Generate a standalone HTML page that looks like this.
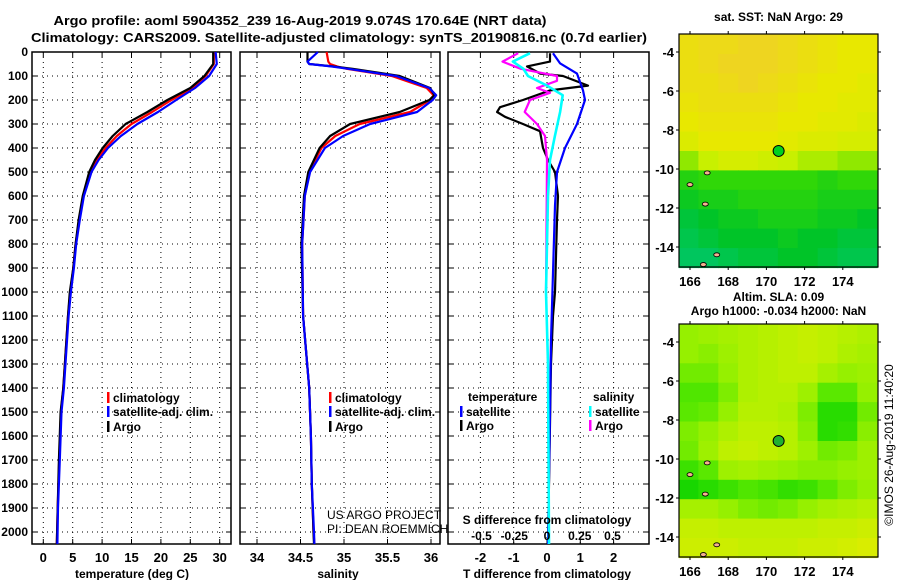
<!DOCTYPE html>
<html><head><meta charset="utf-8">
<style>
html,body{margin:0;padding:0;background:#fff;}
svg{display:block;font-family:"Liberation Sans",sans-serif;}
.b{font-weight:bold;}
</style></head>
<body>
<svg id="fig" width="900" height="580" viewBox="0 0 900 580" xmlns="http://www.w3.org/2000/svg">
<text x="300" y="25" class="b" font-size="13" text-anchor="middle" textLength="493" lengthAdjust="spacingAndGlyphs">Argo profile: aoml 5904352_239 16-Aug-2019 9.074S 170.64E (NRT data)</text>
<text x="339" y="42" class="b" font-size="13" text-anchor="middle" textLength="616" lengthAdjust="spacingAndGlyphs">Climatology: CARS2009. Satellite-adjusted climatology: synTS_20190816.nc (0.7d earlier)</text>
<g id="panels"></g>
<g id="maps"></g>
<text transform="translate(893,445) rotate(-90)" font-size="12" text-anchor="middle">©IMOS 26-Aug-2019 11:40:20</text>
</svg>
<script>
// ---------- data ----------
const tDepth = [0,50,100,150,200,250,300,350,400,450,500,600,700,800,900,1000,1100,1400,1500,1700,1900,2050];
const tArgo  = [28.9,28.9,27.4,25.0,21.1,17.7,14.0,11.8,10.1,8.8,7.8,6.7,6.0,5.5,5.1,4.5,4.2,3.4,2.95,2.65,2.45,2.3];
const tClim  = [29.0,29.0,27.6,25.4,21.8,18.5,15.0,12.5,10.6,9.1,8.0,6.8,6.1,5.5,5.1,4.6,4.2,3.4,3.0,2.7,2.45,2.3];
const tSat   = [29.3,29.5,28.2,25.8,22.6,19.5,16.0,13.2,11.0,9.4,8.2,6.9,6.2,5.6,5.2,4.7,4.3,3.5,3.1,2.8,2.5,2.4];
const sDepth = [0,40,50,60,70,100,150,180,200,250,300,350,400,500,600,800,1100,1400,1600,1800,2000,2050];
const sArgo  = [34.58,34.58,34.6,34.87,35.1,35.64,35.99,36.04,35.98,35.64,35.07,34.84,34.72,34.59,34.54,34.51,34.53,34.6,34.62,34.63,34.65,34.655];
const sClim  = [34.8,34.82,34.84,34.92,35.03,35.55,35.95,36.03,35.99,35.76,35.18,34.9,34.74,34.6,34.55,34.52,34.53,34.6,34.62,34.63,34.65,34.66];
const sSat   = [34.70,34.58,34.6,34.85,35.05,35.6,35.98,36.06,36.02,35.84,35.3,34.99,34.78,34.61,34.55,34.52,34.53,34.6,34.62,34.63,34.655,34.66];
const dtArgoDepth = [5,40,60,90,100,140,160,200,230,250,270,300,330,400,450,500,600,700,850,1000,1100,1300,2050];
const dtArgo = [0.09,0.09,-0.6,-0.2,0.48,1.23,0.09,-0.72,-1.41,-1.5,-1.26,-0.72,-0.21,-0.12,0.03,0.24,0.33,0.3,0.27,0.24,0.18,0.12,0.03];
const dtSatDepth = [5,47,90,160,200,300,400,500,640,920,1200,1500,2050];
const dtSat = [0.18,0.39,0.9,1.08,1.14,0.9,0.54,0.3,0.24,0.18,0.12,0.09,0.03];
const dsSatDepth = [5,40,70,100,140,180,250,350,450,600,1000,1300,2050];
const dsSat = [-0.13,-0.26,-0.18,-0.145,0,0.12,0.1,0.06,0.023,0.008,-0.008,0.008,0.015];
const dsArgoDepth = [5,40,70,100,120,150,170,200,250,300,350,450,1000];
const dsArgo = [-0.22,-0.34,-0.2,0.076,0.076,-0.076,0.023,-0.13,-0.17,-0.076,-0.015,0,-0.008];
const depthTicks = [0,100,200,300,400,500,600,700,800,900,1000,1100,1200,1300,1400,1500,1600,1700,1800,1900,2000];
const tTicks = [0,5,10,15,20,25,30];
const sTicks = [34,34.5,35,35.5,36];
const dtTicks = [-2,-1,0,1,2];
const dsTicks = [-0.5,-0.25,0,0.25,0.5];
const dsTickLabels = ["-0.5","-0.25","0","0.25","0.5"];
// map grids (rows lat -3..-15, cols lon 165.4..175.8), colour level values
const sstGrid = [
[0.3,0.2,0.2,0.1,0.1,0.2,0.3,0.4,0.5,0.5],
[0.3,0.2,0.1,0.1,0.1,0.2,0.3,0.4,0.5,0.5],
[0.3,0.3,0.2,0.1,0.2,0.3,0.4,0.5,0.5,0.6],
[0.4,0.3,0.3,0.3,0.3,0.4,0.5,0.5,0.6,0.6],
[0.5,0.4,0.4,0.4,0.4,0.5,0.5,0.6,0.6,0.7],
[0.7,0.5,0.5,0.5,0.5,0.6,0.7,0.7,0.8,0.8],
[1.2,1.0,0.8,0.8,0.9,1.0,1.1,1.1,1.2,1.2],
[1.7,1.6,1.6,1.6,1.6,1.6,1.6,1.7,1.6,1.6],
[1.9,1.8,1.8,1.7,1.7,1.7,1.7,1.8,1.8,1.8],
[2.1,2.0,1.9,1.9,1.8,1.8,1.8,1.9,1.9,2.0],
[2.2,2.1,2.0,2.0,2.0,1.9,2.0,2.0,2.1,2.1],
[2.3,2.3,2.2,2.1,2.1,2.0,2.0,2.1,2.2,2.2]];
const slaGrid = [
[1.0,0.9,0.8,0.7,0.6,0.5,0.4,0.5,0.6,0.7],
[1.0,1.1,0.9,0.7,0.6,0.5,0.4,0.5,0.7,0.8],
[1.3,1.3,1.0,0.7,0.6,0.5,0.5,0.8,1.0,0.9],
[1.6,1.6,1.2,0.7,0.6,0.6,0.9,1.5,1.5,1.0],
[1.5,1.4,1.0,0.6,0.6,0.7,1.2,2.0,2.0,1.3],
[1.2,1.0,0.7,0.5,0.5,0.6,1.1,2.0,1.9,1.1],
[1.3,0.9,0.5,0.4,0.5,0.6,0.9,1.3,1.2,0.9],
[1.8,1.5,0.9,0.8,0.9,1.0,1.1,1.1,1.0,0.9],
[2.2,2.0,1.8,1.6,1.7,1.9,1.8,1.5,1.2,1.0],
[0.8,0.8,1.0,1.2,1.3,1.2,1.0,0.8,0.7,0.6],
[0.4,0.4,0.5,0.5,0.5,0.5,0.5,0.4,0.4,0.3],
[0.3,0.3,0.3,0.4,0.4,0.4,0.3,0.3,0.2,0.1]];
const lonTicks = [166,168,170,172,174];
const latTicks = [-4,-6,-8,-10,-12,-14];
const argoLon = 170.64, argoLat = -9.074;

// ---------- helpers ----------
const NS="http://www.w3.org/2000/svg";
function mk(tag, attrs, parent){const e=document.createElementNS(NS,tag);for(const k in attrs)e.setAttribute(k,attrs[k]);parent.appendChild(e);return e;}
const P=document.getElementById('panels');
const M=document.getElementById('maps');
const top0=52, bot=544;
const yD = d => top0 + d*0.24;
const xT = v => 43.3 + v*5.88;
const xS = v => 257 + (v-34)*87;
const xDT = v => 547 + v*33.3;
const xDS = v => 547 + v*131;

function panel(x0,x1,name,xfun,ticks,gridVals){
  const g=mk('g',{},P);
  
  
  mk('rect',{x:x0,y:top0,width:x1-x0,height:bot-top0,fill:'#fff'},g);
  depthTicks.forEach(d=>{ if(d>0){const l=mk('line',{x1:x0,x2:x1,y1:yD(d),y2:yD(d),stroke:'#000','stroke-width':1,'stroke-dasharray':'1,4'},g);
     }});
  gridVals.forEach(v=>{const l=mk('line',{x1:xfun(v),x2:xfun(v),y1:top0,y2:bot,stroke:'#000','stroke-width':1,'stroke-dasharray':'1,4'},g);
     
    mk('line',{x1:xfun(v),x2:xfun(v),y1:bot,y2:bot-5,stroke:'#000'},g);
    mk('line',{x1:xfun(v),x2:xfun(v),y1:top0,y2:top0+5,stroke:'#000'},g);});
  depthTicks.forEach(d=>{mk('line',{x1:x0,x2:x0+5,y1:yD(d),y2:yD(d),stroke:'#000'},g);mk('line',{x1:x1,x2:x1-5,y1:yD(d),y2:yD(d),stroke:'#000'},g);});
  mk('rect',{x:x0,y:top0,width:x1-x0,height:bot-top0,fill:'none',stroke:'#000','stroke-width':1.5},g);
  return g;
}
function line(g,xs,ds,xfun,color,name,w){
  const pts=xs.map((v,i)=>xfun(v).toFixed(1)+','+yD(ds[i]).toFixed(1)).join(' ');
  const pl=mk('polyline',{points:pts,fill:'none',stroke:color,'stroke-width':w||2.2,'stroke-linejoin':'round'},g);
  
  
}
function txt(g,x,y,s,opts,name){const t=mk('text',Object.assign({x:x,y:y,'font-size':12,'font-weight':'bold'},opts||{}),g);t.textContent=s;
    return t;}
function legend(g,x,y,color,label,name){mk('rect',{x:x,y:y-10,width:2.5,height:11,fill:color},g);txt(g,x+6,y,label,{},name);}

// depth labels
depthTicks.forEach(d=>txt(P,28,yD(d)+4,String(d),{'text-anchor':'end'},'depth-tick-label'));

// temperature panel
const g1=panel(32,231,'temperature-panel',xT,tTicks,tTicks);
line(g1,tClim,tDepth,xT,'#ff0000','temp-climatology-line');
line(g1,tArgo,tDepth,xT,'#000000','temp-argo-line');
line(g1,tSat,tDepth,xT,'#0000ff','temp-satellite-line');
tTicks.forEach(v=>txt(P,xT(v),562,String(v),{'text-anchor':'middle','font-size':13},'temp-tick-label'));
txt(P,132,578,'temperature (deg C)',{'text-anchor':'middle'},'temp-axis-title');
legend(g1,107,402,'#ff0000','climatology','legend-climatology');
legend(g1,107,416,'#0000ff','satellite-adj. clim.','legend-satellite');
legend(g1,107,431,'#000000','Argo','legend-argo');

// salinity panel
const g2=panel(240,440,'salinity-panel',xS,sTicks,sTicks);
line(g2,sClim,sDepth,xS,'#ff0000','sal-climatology-line');
line(g2,sArgo,sDepth,xS,'#000000','sal-argo-line');
line(g2,sSat,sDepth,xS,'#0000ff','sal-satellite-line');
sTicks.forEach(v=>txt(P,xS(v),562,String(v),{'text-anchor':'middle','font-size':13},'sal-tick-label'));
txt(P,338,578,'salinity',{'text-anchor':'middle'},'sal-axis-title');
legend(g2,329,402,'#ff0000','climatology','legend-climatology');
legend(g2,329,416,'#0000ff','satellite-adj. clim.','legend-satellite');
legend(g2,329,431,'#000000','Argo','legend-argo');
txt(g2,327,519,'US ARGO PROJECT',{'font-weight':'normal','font-size':12},'credit-project');
txt(g2,327,533,'PI: DEAN ROEMMICH',{'font-weight':'normal','font-size':12},'credit-pi');

// difference panel
const g3=panel(448,649,'difference-panel',xDT,dtTicks,dtTicks);
line(g3,dtArgo,dtArgoDepth,xDT,'#000000','dt-argo-line');
line(g3,dsArgo,dsArgoDepth,xDS,'#ff00ff','ds-argo-line');
line(g3,dtSat,dtSatDepth,xDT,'#0000ff','dt-satellite-line');
line(g3,dsSat,dsSatDepth,xDS,'#00ffff','ds-satellite-line',2.6);
dtTicks.forEach(v=>txt(P,xDT(v),562,String(v),{'text-anchor':'middle','font-size':13},'dt-tick-label'));
dsTicks.forEach((v,i)=>txt(g3,xDS(v),540,dsTickLabels[i],{'text-anchor':'middle','font-size':12},'ds-tick-label'));
txt(g3,547,524,'S difference from climatology',{'text-anchor':'middle'},'ds-axis-title');
txt(P,547,578,'T difference from climatology',{'text-anchor':'middle'},'dt-axis-title');
txt(g3,468,401,'temperature',{},'legend-temperature-header');
legend(g3,460,416,'#0000ff','satellite','legend-t-satellite');
legend(g3,460,430,'#000000','Argo','legend-t-argo');
txt(g3,593,401,'salinity',{},'legend-salinity-header');
legend(g3,589,416,'#00ffff','satellite','legend-s-satellite');
legend(g3,589,430,'#ff00ff','Argo','legend-s-argo');

// ---------- maps ----------
function lerpC(stops,v){
  if(v<=stops[0][0])return stops[0][1];
  for(let i=1;i<stops.length;i++){if(v<=stops[i][0]){const a=stops[i-1],b=stops[i],t=(v-a[0])/(b[0]-a[0]);
    return 'rgb('+[0,1,2].map(k=>Math.round(a[1][k]+(b[1][k]-a[1][k])*t)).join(',')+')';}}
  const l=stops[stops.length-1][1];return 'rgb('+l.join(',')+')';
}
function toRgb(c){return typeof c==='string'?c:'rgb('+c.join(',')+')';}
const sstStops=[[0,[240,208,40]],[0.5,[232,232,0]],[1,[200,240,0]],[1.5,[60,220,0]],[2,[0,196,40]],[2.5,[0,200,130]]];
const slaStops=[[0,[224,236,0]],[0.5,[190,240,0]],[1,[150,240,0]],[1.5,[90,232,0]],[2,[40,220,0]],[2.5,[0,204,0]]];
function map(y0,grid,stops,name,titles){
  const g=mk('g',{},M);
  
  
  const x0=679,x1=878,yb=y0+233;
  const lonX = lon => 690+(lon-166)*19.1;
  const latY = lat => y0+18+(-4-lat)*19.5;
  const lon0=165.4,lon1=175.8,lat0=-3.1,lat1=-15.05;
  const nc=grid[0].length,nr=grid.length,dl=(lon1-lon0)/nc,db=(lat0-lat1)/nr;
  grid.forEach((row,r)=>row.forEach((v,c)=>{
    const xa=lonX(lon0+c*dl),xb=lonX(lon0+(c+1)*dl),ya=latY(lat0-r*db),yb2=latY(lat0-(r+1)*db);
    const cell=mk('rect',{x:xa.toFixed(1),y:ya.toFixed(1),width:(xb-xa+0.6).toFixed(1),height:(yb2-ya+0.6).toFixed(1),fill:toRgb(lerpC(stops,v))},g);
    
    
  }));
  mk('rect',{x:x0,y:y0,width:x1-x0,height:yb-y0,fill:'none',stroke:'#000','stroke-width':1.2},g);
  lonTicks.forEach(l=>{mk('line',{x1:lonX(l),x2:lonX(l),y1:y0,y2:y0-3,stroke:'#000'},g);mk('line',{x1:lonX(l),x2:lonX(l),y1:yb,y2:yb+3,stroke:'#000'},g);
    txt(g,lonX(l),yb+19,String(l),{'text-anchor':'middle','font-size':13},'map-lon-label');});
  latTicks.forEach(l=>{mk('line',{x1:x0,x2:x0-3,y1:latY(l),y2:latY(l),stroke:'#000'},g);mk('line',{x1:x1,x2:x1+3,y1:latY(l),y2:latY(l),stroke:'#000'},g);
    txt(g,x0-5,latY(l)+5,String(l),{'text-anchor':'end','font-size':13},'map-lat-label');});
  // small islands
  [[166,-10.8],[166.8,-11.8],[167.4,-14.4],[166.7,-14.9],[166.9,-10.2]].forEach(p=>{
    const e=mk('ellipse',{cx:lonX(p[0]),cy:latY(p[1]),rx:3,ry:2,fill:'#f4b090',stroke:'#000','stroke-width':0.8},g);
     });
  const c=mk('circle',{cx:lonX(argoLon),cy:latY(argoLat),r:5.5,fill:name==='sst-map'?'#00d020':'#20b030',stroke:'#000','stroke-width':1},g);
  
  
  titles.forEach((t,i)=>txt(g,(x0+x1)/2,y0-(titles.length-i)*14+(titles.length>1?5:1),t,{'text-anchor':'middle','font-size':12},'map-title'));
}
map(34,sstGrid,sstStops,'sst-map',['sat. SST: NaN Argo: 29']);
map(324,slaGrid,slaStops,'sla-map',['Altim. SLA: 0.09','Argo h1000: -0.034 h2000: NaN']);
</script>
</body></html>
